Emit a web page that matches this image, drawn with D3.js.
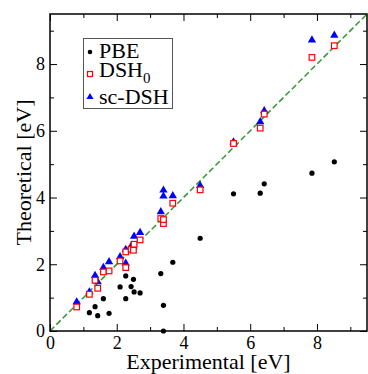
<!DOCTYPE html>
<html>
<head>
<meta charset="utf-8">
<script src="https://cdn.jsdelivr.net/npm/d3@7"></script>
<style>
  body { margin: 0; background: #fff; }
  svg, svg text { font-family: 'Liberation Serif', 'Times New Roman', serif; }
  svg { display: block; }
</style>
</head>
<body>
<svg id="chart" width="368" height="374"></svg>
<script>
// experimental gaps and theoretical results (eV)
const experimental = [0.80, 1.18, 1.35, 1.43, 1.60, 1.77, 2.10, 2.27, 2.27, 2.43, 2.50, 2.52, 2.70, 3.32, 3.40, 3.40, 3.68, 4.50, 5.50, 6.30, 6.42, 7.85, 8.52];
const pbe        = [null, 0.55, 0.73, 0.46, 0.97, 0.53, 1.32, 0.97, 1.65, 1.33, 1.55, 1.17, 1.14, 1.72, 0.77, 0.00, 2.06, 2.78, 4.11, 4.13, 4.41, 4.73, 5.07];
const dsh0       = [0.72, 1.10, 1.52, 1.28, 1.77, 1.80, 2.10, 1.90, 2.37, 2.45, 2.42, 2.60, 2.73, 3.37, 3.22, 3.34, 3.83, 4.23, 5.62, 6.08, 6.50, 8.20, 8.55];
const scDsh      = [0.87, 1.17, 1.66, 1.47, 1.90, 2.07, 2.22, 2.03, 2.44, 2.54, 2.52, 2.84, 2.95, 3.57, 4.04, 4.22, 4.05, 4.36, 5.66, 6.27, 6.60, 8.72, 8.86];

const majorTicks = [0, 2, 4, 6, 8];
const minorTicks = [1, 3, 5, 7, 9];

const svg = d3.select('#chart');
const mLeft = 50, mRight = 367, mTop = 14, mBottom = 331;

const x = d3.scaleLinear().domain([0, 9.5]).range([mLeft, mRight]);
const y = d3.scaleLinear().domain([0, 9.5]).range([mBottom, mTop]);

// ticks (inside, on all four sides)
function addTicks(axisFn, scale, transform, size, values, labels) {
    const g = svg.append('g')
        .attr('transform', transform)
        .call(axisFn(scale).tickValues(values).tickSizeInner(-size).tickSizeOuter(0)
            .tickPadding(labels ? 5 : 0)
            .tickFormat(labels ? d3.format('d') : ''));
    g.attr('font-family', null).attr('font-size', null);
    g.select('.domain').remove();
    g.selectAll('line').attr('stroke', '#000').attr('stroke-width', 1);
    g.selectAll('text').style('font-size', '18px').attr('fill', '#000');
    if (!labels) g.selectAll('text').remove();
    return g;
}
addTicks(d3.axisBottom, x, `translate(0,${mBottom})`, 7, majorTicks, true);
addTicks(d3.axisBottom, x, `translate(0,${mBottom})`, 4, minorTicks, false);
addTicks(d3.axisTop, x, `translate(0,${mTop})`, 7, majorTicks, false);
addTicks(d3.axisTop, x, `translate(0,${mTop})`, 4, minorTicks, false);
addTicks(d3.axisLeft, y, `translate(${mLeft},0)`, 7, majorTicks, true);
addTicks(d3.axisLeft, y, `translate(${mLeft},0)`, 4, minorTicks, false);
addTicks(d3.axisRight, y, `translate(${mRight},0)`, 7, majorTicks, false);
addTicks(d3.axisRight, y, `translate(${mRight},0)`, 4, minorTicks, false);

// y = x line
svg.append('clipPath').attr('id', 'clip')
    .append('rect').attr('x', mLeft).attr('y', mTop).attr('width', mRight - mLeft).attr('height', mBottom - mTop);
svg.append('line')
    .attr('clip-path', 'url(#clip)')
    .attr('x1', x(0)).attr('y1', y(0)).attr('x2', x(9.5)).attr('y2', y(9.5))
    .attr('stroke', '#2e9b2e').attr('stroke-width', 1.5).attr('stroke-dasharray', '6,3');

// markers
const triangle = d3.symbol().type(d3.symbolTriangle).size(30);
const idx = d3.range(experimental.length);

svg.append('g').selectAll('circle')
    .data(idx.filter(i => pbe[i] !== null))
    .join('circle')
    .attr('cx', i => x(experimental[i]))
    .attr('cy', i => y(pbe[i]))
    .attr('r', 2.6)
    .attr('fill', '#000');

svg.append('g').selectAll('path')
    .data(idx)
    .join('path')
    .attr('d', triangle)
    .attr('transform', i => `translate(${x(experimental[i])},${y(scDsh[i])})`)
    .attr('fill', '#0000ff');

svg.append('g').selectAll('rect')
    .data(idx)
    .join('rect')
    .attr('x', i => x(experimental[i]) - 2.8)
    .attr('y', i => y(dsh0[i]) - 2.8)
    .attr('width', 5.6).attr('height', 5.6)
    .attr('fill', '#fff').attr('stroke', '#ff0000').attr('stroke-width', 1.2);

// frame
svg.append('rect')
    .attr('x', mLeft).attr('y', mTop).attr('width', mRight - mLeft).attr('height', mBottom - mTop)
    .attr('fill', 'none').attr('stroke', '#000').attr('stroke-width', 1.5);

// axis titles
svg.append('text')
    .attr('x', (mLeft + mRight) / 2).attr('y', 369)
    .attr('text-anchor', 'middle').style('font-size', '22px')
    .text('Experimental [eV]');

svg.append('text')
    .attr('transform', `translate(31,${(mTop + mBottom) / 2}) rotate(-90)`)
    .attr('text-anchor', 'middle').style('font-size', '22px')
    .text('Theoretical [eV]');

// legend
const legend = svg.append('g');
legend.append('rect')
    .attr('x', 83.5).attr('y', 38.5).attr('width', 89).attr('height', 70)
    .attr('fill', '#fff').attr('stroke', '#555').attr('stroke-width', 1);

legend.append('circle').attr('cx', 90).attr('cy', 52).attr('r', 2.3).attr('fill', '#000');
legend.append('rect').attr('x', 87.5).attr('y', 71.5).attr('width', 5).attr('height', 5)
    .attr('fill', '#fff').attr('stroke', '#ff0000').attr('stroke-width', 1.2);
legend.append('path').attr('d', d3.symbol().type(d3.symbolTriangle).size(22))
    .attr('transform', 'translate(90,97)').attr('fill', '#0000ff');

legend.append('text').attr('x', 99).attr('y', 58).style('font-size', '22px').text('PBE');
const dshText = legend.append('text').attr('x', 99).attr('y', 77).style('font-size', '22px');
dshText.append('tspan').text('DSH');
dshText.append('tspan').style('font-size', '15px').attr('dy', 6).text('0');
legend.append('text').attr('x', 99).attr('y', 104).style('font-size', '22px').text('sc-DSH');
</script>
</body>
</html>
